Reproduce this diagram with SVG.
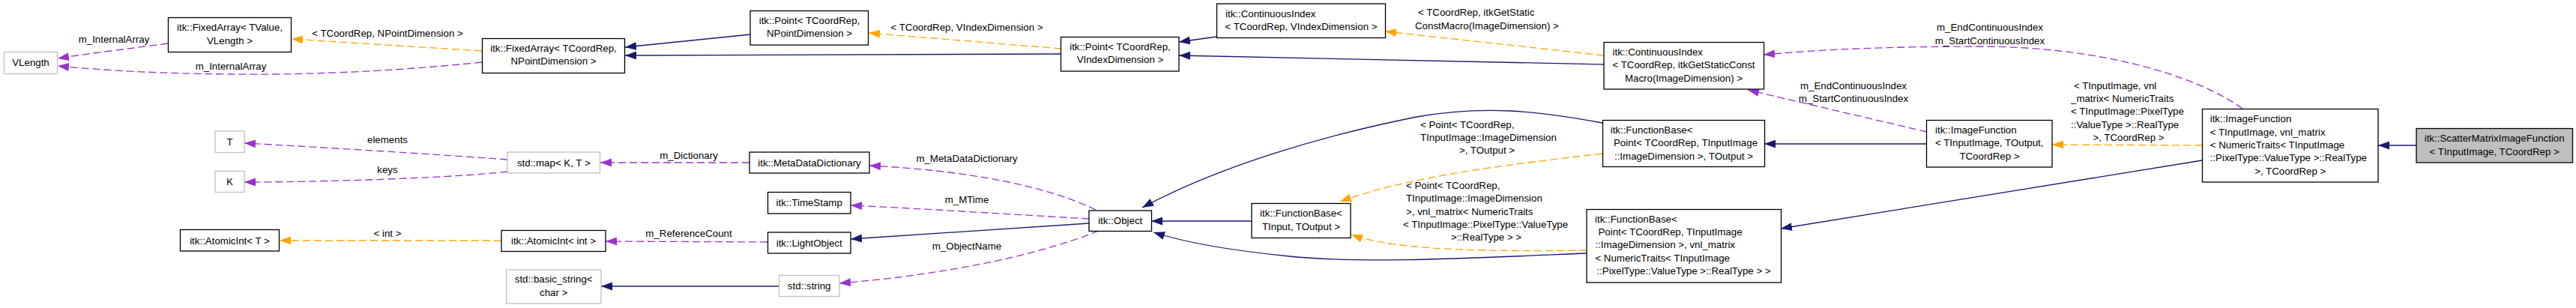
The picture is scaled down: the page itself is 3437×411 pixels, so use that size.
<svg xmlns="http://www.w3.org/2000/svg" width="3437" height="411" viewBox="0 0 3437 411">
<style>
text{font-family:"Liberation Sans",Arial,sans-serif;font-size:13.3px;fill:#000}
.c{text-anchor:middle}
.s{text-anchor:start}
.nb{fill:#fff;stroke:#000;stroke-width:1.3}
.ng{fill:#fff;stroke:#bfbfbf;stroke-width:1.3}
.nf{fill:#bfbfbf;stroke:#000;stroke-width:1.3}
.e{fill:none;stroke-width:1.3}
.inh{stroke:#191970;marker-end:url(#an)}
.tpl{stroke:#ffa500;stroke-dasharray:10,5;marker-end:url(#ao)}
.use{stroke:#9a32cd;stroke-dasharray:10,5;marker-end:url(#ap)}
</style>
<defs>
<marker id="an" viewBox="0 0 15 11" refX="15" refY="5.5" markerWidth="15" markerHeight="11" markerUnits="userSpaceOnUse" orient="auto"><path d="M0,0 L15,5.5 L0,11 z" fill="#191970"/></marker>
<marker id="ao" viewBox="0 0 15 11" refX="15" refY="5.5" markerWidth="15" markerHeight="11" markerUnits="userSpaceOnUse" orient="auto"><path d="M0,0 L15,5.5 L0,11 z" fill="#ffa500"/></marker>
<marker id="ap" viewBox="0 0 15 11" refX="15" refY="5.5" markerWidth="15" markerHeight="11" markerUnits="userSpaceOnUse" orient="auto"><path d="M0,0 L15,5.5 L0,11 z" fill="#9a32cd"/></marker>
</defs>
<rect width="3437" height="411" fill="#fff"/>
<g id="edges">
<path class="e use" d="M224,58 C180,64 120,71 77,78"/>
<text class="c" x="152" y="57">m_InternalArray</text>
<path class="e use" d="M643,83 C520,96 400,100 308,99 C210,98 140,94 77,88"/>
<text class="c" x="308" y="93">m_InternalArray</text>
<path class="e tpl" d="M643,68 L389,52"/>
<text class="c" x="517" y="49">&lt; TCoordRep, NPointDimension &gt;</text>
<path class="e use" d="M677,213 C600,207 420,196 326,191"/>
<text class="c" x="517" y="191">elements</text>
<path class="e use" d="M677,229 C600,238 420,243 326,243"/>
<text class="c" x="517" y="231">keys</text>
<path class="e tpl" d="M669,321 L373,321"/>
<text class="c" x="517" y="316">&lt; int &gt;</text>
<path class="e inh" d="M1001,46 L834,63"/>
<path class="e inh" d="M1416,72 L834,74"/>
<path class="e tpl" d="M1416,65 L1159,44"/>
<text class="c" x="1290" y="41">&lt; TCoordRep, VIndexDimension &gt;</text>
<path class="e use" d="M1000,217 L801,217"/>
<text class="c" x="919" y="212">m_Dictionary</text>
<path class="e use" d="M1024,323 L808,322"/>
<text class="c" x="919" y="316">m_ReferenceCount</text>
<path class="e inh" d="M1040,382 L802,382"/>
<path class="e use" d="M1462,280 C1400,250 1300,228 1160,221"/>
<text class="c" x="1290" y="216">m_MetaDataDictionary</text>
<path class="e use" d="M1453,292 C1350,286 1240,279 1135,274"/>
<text class="c" x="1290" y="271">m_MTime</text>
<path class="e inh" d="M1453,298 L1135,319"/>
<path class="e use" d="M1466,308 C1400,335 1280,365 1120,378"/>
<text class="c" x="1290" y="333">m_ObjectName</text>
<path class="e inh" d="M1623,49 L1573,56"/>
<path class="e inh" d="M2140,86 C1950,82 1760,77 1573,74"/>
<path class="e tpl" d="M2140,74 L1848,42"/>
<text class="s" x="1892" y="21">&lt; TCoordRep, itkGetStatic</text>
<text class="s" x="1888" y="39">ConstMacro(ImageDimension) &gt;</text>
<path class="e inh" d="M1670,295 L1536,295"/>
<path class="e inh" d="M2138,164 C2050,148 1980,140 1890,156 C1770,180 1630,220 1524,277"/>
<path class="e inh" d="M2117,338 C1950,345 1820,352 1720,342 C1620,332 1570,320 1539,310"/>
<path class="e tpl" d="M2138,205 C2010,220 1880,235 1788,269"/>
<text class="s" x="1895" y="171">&lt; Point&lt; TCoordRep,</text>
<text class="s" x="1895" y="188">TInputImage::ImageDimension</text>
<text class="c" x="1984" y="205">&gt;, TOutput &gt;</text>
<path class="e tpl" d="M2117,334 C1980,336 1860,334 1803,313"/>
<text class="s" x="1876" y="252">&lt; Point&lt; TCoordRep,</text>
<text class="s" x="1876" y="269">TInputImage::ImageDimension</text>
<text class="s" x="1876" y="287">&gt;, vnl_matrix&lt; NumericTraits</text>
<text class="s" x="1872" y="304">&lt; TInputImage::PixelType::ValueType</text>
<text class="c" x="1983" y="321">&gt;::RealType &gt; &gt;</text>
<path class="e use" d="M2571,176 L2332,120"/>
<text class="c" x="2473" y="119">m_EndContinuousIndex</text>
<text class="c" x="2473" y="136">m_StartContinuousIndex</text>
<path class="e inh" d="M2571,192 L2354,192"/>
<path class="e inh" d="M2938,214 L2376,305"/>
<path class="e use" d="M2992,145 C2930,100 2800,62 2640,62 C2520,62 2430,66 2353,73"/>
<text class="c" x="2655" y="41">m_EndContinuousIndex</text>
<text class="c" x="2655" y="59">m_StartContinuousIndex</text>
<path class="e tpl" d="M2938,194 L2738,193"/>
<text class="s" x="2767" y="119">&lt; TInputImage, vnl</text>
<text class="s" x="2763" y="136">_matrix&lt; NumericTraits</text>
<text class="s" x="2763" y="153">&lt; TInputImage::PixelType</text>
<text class="s" x="2763" y="171">::ValueType &gt;::RealType</text>
<text class="c" x="2840" y="188">&gt;, TCoordRep &gt;</text>
<path class="e inh" d="M3224,194 L3173,194"/>
</g>
<g id="n_vlength"><rect class="ng" x="5.5" y="69.5" width="71" height="29"/><text class="c" x="41" y="88">VLength</text></g>
<g id="n_fa_tvalue"><rect class="nb" x="224.5" y="23.5" width="164" height="46"/><text class="c" x="306.5" y="41">itk::FixedArray&lt; TValue,</text><text class="c" x="306.5" y="59">VLength &gt;</text></g>
<g id="n_fa_tcoord"><rect class="nb" x="643.5" y="51.5" width="190" height="46"/><text class="c" x="738.5" y="69">itk::FixedArray&lt; TCoordRep,</text><text class="c" x="738.5" y="86">NPointDimension &gt;</text></g>
<g id="n_point_npd"><rect class="nb" x="1001" y="14.5" width="157.5" height="45.5"/><text class="c" x="1080" y="32">itk::Point&lt; TCoordRep,</text><text class="c" x="1080" y="49">NPointDimension &gt;</text></g>
<g id="n_point_vid"><rect class="nb" x="1415.5" y="49.5" width="157.5" height="45.5"/><text class="c" x="1494.5" y="66.5">itk::Point&lt; TCoordRep,</text><text class="c" x="1494.5" y="84">VIndexDimension &gt;</text></g>
<g id="n_ci1"><rect class="nb" x="1623.5" y="5" width="225" height="45.5"/><text class="s" x="1635" y="23">itk::ContinuousIndex</text><text class="c" x="1736" y="40">&lt; TCoordRep, VIndexDimension &gt;</text></g>
<g id="n_ci2"><rect class="nb" x="2140" y="56.5" width="213.5" height="62.5"/><text class="s" x="2151.5" y="74">itk::ContinuousIndex</text><text class="s" x="2151.5" y="91">&lt; TCoordRep, itkGetStaticConst</text><text class="c" x="2246.5" y="109">Macro(ImageDimension) &gt;</text></g>
<g id="n_t"><rect class="ng" x="287" y="175" width="39" height="28.5"/><text class="c" x="306.5" y="193.5">T</text></g>
<g id="n_k"><rect class="ng" x="287" y="228.5" width="39" height="28"/><text class="c" x="306.5" y="247">K</text></g>
<g id="n_atomic_t"><rect class="nb" x="240.5" y="306.5" width="132" height="28.5"/><text class="c" x="306.5" y="325.5">itk::AtomicInt&lt; T &gt;</text></g>
<g id="n_map"><rect class="ng" x="677" y="203" width="123.5" height="28"/><text class="c" x="738.8" y="221.5">std::map&lt; K, T &gt;</text></g>
<g id="n_mdd"><rect class="nb" x="1000" y="203" width="160" height="28"/><text class="c" x="1080" y="221.5">itk::MetaDataDictionary</text></g>
<g id="n_timestamp"><rect class="nb" x="1024.5" y="256.5" width="110.5" height="28.5"/><text class="c" x="1079.7" y="275.3">itk::TimeStamp</text></g>
<g id="n_atomic_int"><rect class="nb" x="669" y="307.5" width="139" height="28"/><text class="c" x="738.5" y="326">itk::AtomicInt&lt; int &gt;</text></g>
<g id="n_lightobject"><rect class="nb" x="1024.5" y="310" width="110.5" height="28"/><text class="c" x="1079.7" y="328.5">itk::LightObject</text></g>
<g id="n_basic_string"><rect class="ng" x="675.5" y="360" width="126.5" height="45"/><text class="c" x="738.7" y="377">std::basic_string&lt;</text><text class="c" x="738.7" y="394.7">char &gt;</text></g>
<g id="n_string"><rect class="ng" x="1039.5" y="367.5" width="80.5" height="28"/><text class="c" x="1079.7" y="386">std::string</text></g>
<g id="n_object"><rect class="nb" x="1453" y="281" width="83.5" height="27.5"/><text class="c" x="1494.7" y="299">itk::Object</text></g>
<g id="n_fb1"><rect class="nb" x="1670" y="271.5" width="132" height="46"/><text class="c" x="1736" y="289">itk::FunctionBase&lt;</text><text class="c" x="1736" y="307">TInput, TOutput &gt;</text></g>
<g id="n_fb2"><rect class="nb" x="2138.5" y="160.5" width="216" height="62"/><text class="s" x="2148.7" y="178">itk::FunctionBase&lt;</text><text class="s" x="2153" y="195">Point&lt; TCoordRep, TInputImage</text><text class="c" x="2246.5" y="213">::ImageDimension &gt;, TOutput &gt;</text></g>
<g id="n_fb3"><rect class="nb" x="2117" y="279.5" width="259.5" height="97.5"/><text class="s" x="2128" y="297">itk::FunctionBase&lt;</text><text class="s" x="2132.5" y="314">Point&lt; TCoordRep, TInputImage</text><text class="s" x="2128.4" y="331">::ImageDimension &gt;, vnl_matrix</text><text class="s" x="2128.4" y="349">&lt; NumericTraits&lt; TInputImage</text><text class="c" x="2246.5" y="366">::PixelType::ValueType &gt;::RealType &gt; &gt;</text></g>
<g id="n_if"><rect class="nb" x="2570.5" y="160.5" width="167.5" height="62.5"/><text class="s" x="2582" y="178">itk::ImageFunction</text><text class="s" x="2582" y="195">&lt; TInputImage, TOutput,</text><text class="c" x="2654.5" y="213">TCoordRep &gt;</text></g>
<g id="n_if2"><rect class="nb" x="2938.5" y="145.5" width="234.5" height="97.5"/><text class="s" x="2948.7" y="163">itk::ImageFunction</text><text class="s" x="2948.7" y="180.5">&lt; TInputImage, vnl_matrix</text><text class="s" x="2948.7" y="198">&lt; NumericTraits&lt; TInputImage</text><text class="s" x="2948.7" y="215">::PixelType::ValueType &gt;::RealType</text><text class="c" x="3055.7" y="233">&gt;, TCoordRep &gt;</text></g>
<g id="n_scatter"><rect class="nf" x="3224" y="171.5" width="208.5" height="45.5"/><text class="c" x="3328.2" y="189">itk::ScatterMatrixImageFunction</text><text class="c" x="3328.2" y="207">&lt; TInputImage, TCoordRep &gt;</text></g>
</svg>
